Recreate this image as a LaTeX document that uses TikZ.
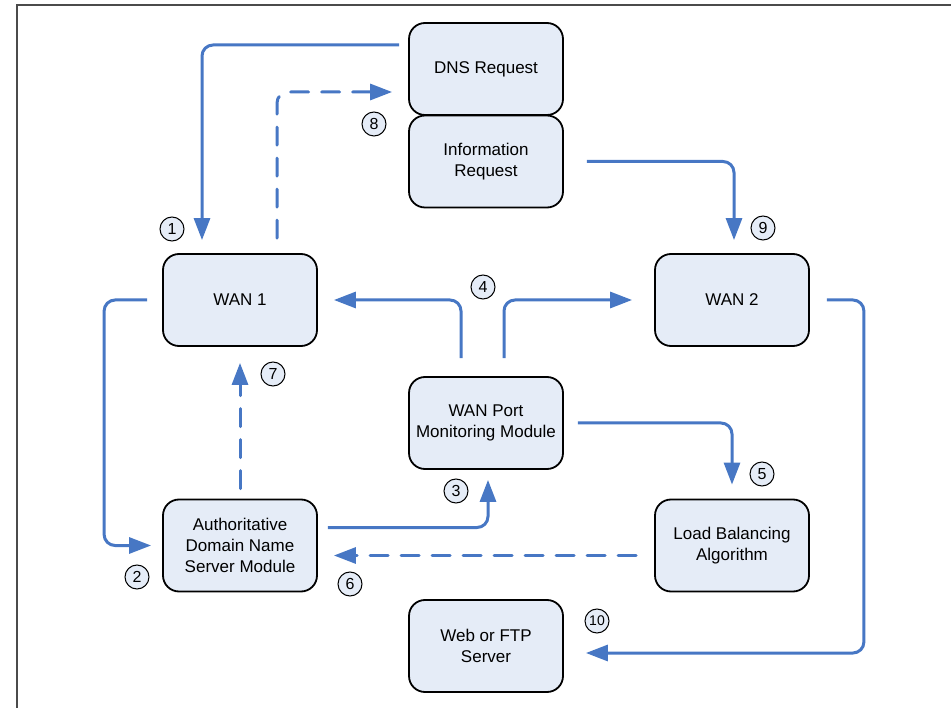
\documentclass[tikz,border=0pt]{standalone}
\usepackage{fontspec}
\setmainfont{Liberation Sans}
\usetikzlibrary{arrows.meta,calc}
\definecolor{flowblue}{RGB}{71,119,196}
\definecolor{boxfill}{RGB}{229,236,247}
\definecolor{framegray}{RGB}{75,75,75}
\begin{document}
\begin{tikzpicture}[x=1pt,y={(0pt,-1pt)},
  stepbox/.style={draw=black,line width=1.8pt,fill=boxfill,rounded corners=16pt,
    minimum width=154pt,minimum height=92pt,align=center,inner sep=2pt,
    font=\fontsize{17}{21}\selectfont},
  badge/.style={circle,draw=black,line width=1pt,fill=boxfill,minimum size=24pt,
    inner sep=0pt,font=\fontsize{16}{16}\selectfont},
  flow/.style={draw=flowblue,line width=3pt,rounded corners=11pt,
    -{Triangle[length=22pt,width=16pt]}},
  flowd/.style={flow,line cap=round,dash pattern=on 18pt off 13pt}]
\useasboundingbox (0,0) rectangle (951,708);
% page frame: top and left rules
\draw[framegray,line width=2pt] (951,5) -- (17,5) -- (17,708);

% boxes
\node[stepbox] (dns)  at (486,69)    {DNS Request};
\node[stepbox] (info) at (486,161.5) {Information\\Request};
\node[stepbox] (wan1) at (240,300)   {WAN 1};
\node[stepbox] (wan2) at (732,300)   {WAN 2};
\node[stepbox] (port) at (486,423)   {WAN Port\\Monitoring Module};
\node[stepbox] (auth) at (240,545.5) {Authoritative\\Domain Name\\Server Module};
\node[stepbox] (lb)   at (732,545.5) {Load Balancing\\Algorithm};
\node[stepbox] (web)  at (486,646)   {Web or FTP\\Server};

% step numbers
\node[badge] (c1)  at (172,229) {1};
\node[badge] (c2)  at (137,577) {2};
\node[badge] (c3)  at (456,491) {3};
\node[badge] (c4)  at (483,287) {4};
\node[badge] (c5)  at (762,474) {5};
\node[badge] (c6)  at (350,584) {6};
\node[badge] (c7)  at (273,374) {7};
\node[badge] (c8)  at (374,124) {8};
\node[badge] (c9)  at (763,228) {9};
\node[badge,font=\fontsize{14}{14}\selectfont] (c10) at (597,621) {10};

% connectors
\draw[flow]  ($(dns.west)+(-9,-24)$) -| ($(wan1.north)+(-38,-13)$);
\draw[flowd] ($(wan1.north)+(37,-15)$) |- ($(dns.west)+(-16,23)$);
\draw[flow]  ($(info.east)+(23,0)$) -| ($(wan2.north)+(2,-13)$);
\draw[flow]  ($(port.north)+(-25,-18)$) |- ($(wan1.east)+(16,0)$);
\draw[flow]  ($(port.north)+(18,-18)$) |- ($(wan2.west)+(-22,0)$);
\draw[flowd] ($(auth.north)+(0,-10)$) -- ($(wan1.south)+(0,16)$);
\draw[flow]  ($(wan1.west)+(-15,0)$) -- ++(-43,0) |- ($(auth.west)+(-11,0)$);
\draw[flow]  ($(auth.east)+(10,-18)$) -| ($(port.south)+(2,10)$);
\draw[flow]  ($(port.east)+(14,0)$) -| ($(lb.north)+(0,-14)$);
\draw[flowd] ($(lb.west)+(-18,10)$) -- ($(auth.east)+(16,10)$);
\draw[flow]  ($(wan2.east)+(17,0)$) -- ++(37,0) |- ($(web.east)+(22,7)$);
\end{tikzpicture}
\end{document}
